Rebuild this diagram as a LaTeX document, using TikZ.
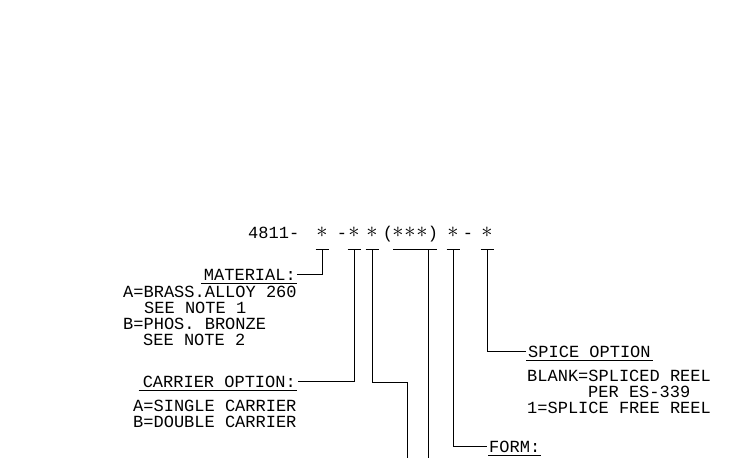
\documentclass[tikz,border=0pt]{standalone}
\usepackage{fontspec}
\usepackage{graphicx}
\newfontfamily\cadfont{Liberation Mono}
\newcommand\cadstar{\raisebox{0.02em}{\scalebox{1.3}{$\ast$}}}
\begin{document}
\begin{tikzpicture}[x=1pt,y=-1pt,
  lbl/.style={inner sep=0pt, font=\cadfont\fontsize{17}{18}\selectfont},
  wire/.style={line width=0.8pt, black},
  uline/.style={line width=0.8pt, black}]
\useasboundingbox (0,0) rectangle (729,458);
% part number
\node[lbl, anchor=base west] (pn) at (248,238) {4811-};
\node[lbl, anchor=base] (a1) at (322,238) {\cadstar};
\node[lbl, anchor=base] (d1) at (342,238) {-};
\node[lbl, anchor=base] (a2) at (354,238) {\cadstar};
\node[lbl, anchor=base] (a3) at (372,238) {\cadstar};
\node[lbl, anchor=base] (lp) at (388,238) {(};
\node[lbl, anchor=base] (grp) at (410,238) {\makebox[12pt]{\cadstar}\makebox[12pt]{\cadstar}\makebox[12pt]{\cadstar}};
\node[lbl, anchor=base] (rp) at (433,238) {)};
\node[lbl, anchor=base] (a5) at (453,238) {\cadstar};
\node[lbl, anchor=base] (d2) at (468,238) {-};
\node[lbl, anchor=base] (a6) at (487,238) {\cadstar};
% T bars
\coordinate (t1) at (322,249);
\coordinate (t2) at (354,249);
\coordinate (t3) at (372,249);
\coordinate (t4) at (428,249);
\coordinate (t5) at (453,249);
\coordinate (t6) at (487,249);
\foreach \t in {t1,t2,t3,t5,t6}
  \draw[wire] ([xshift=-6.5]\t) -- ([xshift=6.5]\t);
\draw[wire] (393,249) -- (437,249);
% material
\node[lbl, anchor=base east] (mat) at (296,280) {MATERIAL:};
\draw[uline] ([xshift=-3,yshift=-3]mat.base west) -- ([xshift=1,yshift=-3]mat.base east);
\node[lbl, anchor=base west] (m1) at (123,297) {A=BRASS.ALLOY 260};
\node[lbl, anchor=base west] (m2) at (144,313) {SEE NOTE 1};
\node[lbl, anchor=base west] (m3) at (123,329) {B=PHOS. BRONZE};
\node[lbl, anchor=base west] (m4) at (143,345) {SEE NOTE 2};
\draw[wire] (t1) |- ([xshift=1]mat.east);
% carrier
\node[lbl, anchor=base east] (car) at (296,387) {CARRIER OPTION:};
\draw[uline] ([xshift=-4,yshift=-3]car.base west) -- ([xshift=1,yshift=-3]car.base east);
\node[lbl, anchor=base west] (c1) at (133,411) {A=SINGLE CARRIER};
\node[lbl, anchor=base west] (c2) at (133,427) {B=DOUBLE CARRIER};
\draw[wire] (t2) |- ([xshift=2]car.east);
% third option (runs off the bottom)
\coordinate (k3) at (372,382);
\coordinate (b3) at (407,458);
\draw[wire] (t3) -- (k3) -| (b3);
\coordinate (b4) at (428,458);
\draw[wire] (t4) -- (b4);
% form
\node[lbl, anchor=base west] (form) at (489,452) {FORM:};
\draw[uline] ([xshift=-1,yshift=-3]form.base west) -- ([xshift=1,yshift=-3]form.base east);
\draw[wire] (t5) |- ([xshift=-2]form.west);
% splice
\node[lbl, anchor=base west] (spl) at (528,357) {SPICE OPTION};
\draw[uline] ([xshift=-2,yshift=-3]spl.base west) -- ([xshift=2,yshift=-3]spl.base east);
\node[lbl, anchor=base west] (s1) at (527,381) {BLANK=SPLICED REEL};
\node[lbl, anchor=base west] (s2) at (588,397) {PER ES-339};
\node[lbl, anchor=base west] (s3) at (527,413) {1=SPLICE FREE REEL};
\draw[wire] (t6) |- ([xshift=-2]spl.west);
\end{tikzpicture}
\end{document}
